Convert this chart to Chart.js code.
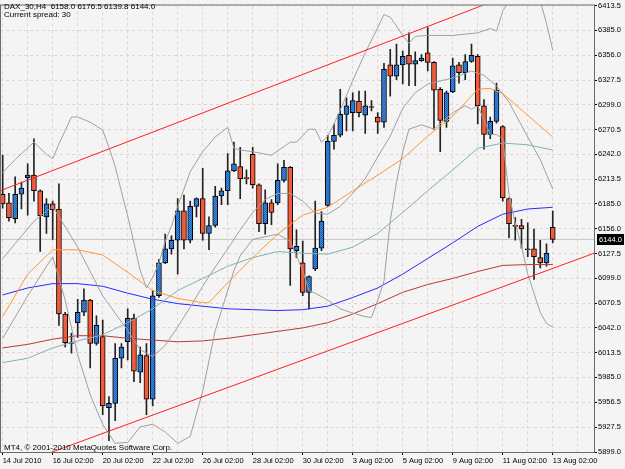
<!DOCTYPE html>
<html>
<head>
<meta charset="utf-8">
<title>DAX_30,H4</title>
<script src="https://cdn.jsdelivr.net/npm/chart.js@4.4.1/dist/chart.umd.min.js"></script>
<style>
  html, body { margin: 0; padding: 0; background: #f4f4f4; }
  #wrap { width: 625px; height: 469px; }
</style>
</head>
<body>
<div id="wrap"><canvas id="chart" width="625" height="469"></canvas></div>
<script>
// time axis: a label every 8th H4 bar
const timeLabels = {
  0: '14 Jul 2010', 8: '16 Jul 02:00', 16: '20 Jul 02:00', 24: '22 Jul 02:00',
  32: '26 Jul 02:00', 40: '28 Jul 02:00', 48: '30 Jul 02:00', 56: '3 Aug 02:00',
  64: '5 Aug 02:00', 72: '9 Aug 02:00', 80: '11 Aug 02:00', 88: '13 Aug 02:00'
};
const gridBars = [0, 4, 8, 12, 16, 20, 24, 28, 32, 36, 40, 44, 48, 52, 56, 60, 64, 68, 72, 76, 80, 84, 88, 92];

const priceTicks = [6413.5, 6385.0, 6356.0, 6327.5, 6299.0, 6270.5, 6242.0, 6213.5, 6185.0, 6156.0,
  6127.5, 6099.0, 6070.5, 6042.0, 6013.5, 5985.0, 5956.5, 5927.5, 5899.0];

// OHLC, one value per H4 bar
const opens = [6196, 6186, 6168, 6196, 6215, 6218, 6200, 6170, 6185, 6179,
  6058, 6025, 6048, 6060, 6074, 6024, 6032, 5950, 5955, 6007,
  6026, 6053, 5991, 6010, 5960, 6079, 6117, 6133, 6143, 6177,
  6143, 6182, 6191, 6151, 6160, 6194, 6200, 6223, 6228, 6215,
  6242, 6207, 6162, 6186, 6186, 6212, 6227, 6131, 6117, 6083,
  6110, 6134, 6183, 6257, 6264, 6288, 6290, 6303, 6287, 6297,
  6285, 6279, 6345, 6332, 6345, 6356, 6346, 6350, 6359, 6348,
  6317, 6280, 6314, 6345, 6336, 6349, 6355, 6298, 6265, 6280,
  6274, 6191, 6160, 6160, 6133, 6133, 6123, 6117, 6158];
const highs = [6241, 6197, 6216, 6210, 6231, 6260, 6201, 6191, 6188, 6208,
  6060, 6036, 6075, 6087, 6075, 6056, 6051, 5963, 6024, 6024,
  6064, 6058, 6020, 6024, 6085, 6121, 6150, 6148, 6191, 6195,
  6188, 6192, 6226, 6170, 6205, 6203, 6243, 6256, 6250, 6224,
  6250, 6208, 6201, 6190, 6231, 6235, 6228, 6155, 6142, 6102,
  6188, 6176, 6264, 6277, 6317, 6307, 6313, 6315, 6315, 6304,
  6290, 6347, 6363, 6369, 6361, 6382, 6360, 6357, 6388, 6349,
  6319, 6315, 6353, 6348, 6357, 6369, 6357, 6305, 6285, 6324,
  6275, 6192, 6169, 6167, 6163, 6156, 6143, 6139, 6176.5];
const lows = [6180, 6165, 6163, 6179, 6172, 6188, 6130, 6151, 6144, 6045,
  6020, 6013, 6031, 6056, 5996, 6022, 5942, 5912, 5935, 5996,
  6005, 5980, 5979, 5942, 5952, 6077, 6116, 6127, 6104, 6133,
  6140, 6170, 6143, 6132, 6158, 6184, 6184, 6222, 6191, 6208,
  6203, 6153, 6150, 6161, 6184, 6210, 6091, 6123, 6079, 6064,
  6108, 6131, 6182, 6248, 6262, 6269, 6269, 6285, 6266, 6292,
  6266, 6273, 6309, 6328, 6323, 6321, 6321, 6349, 6338, 6271,
  6245, 6273, 6313, 6324, 6328, 6348, 6277, 6248, 6260, 6278,
  6188, 6146, 6143, 6134, 6124, 6098, 6111, 6113, 6139.8];
const closes = [6185, 6169, 6196, 6203, 6218, 6200, 6171, 6185, 6178, 6058,
  6025, 6024, 6060, 6074, 6024, 6045, 5952, 5955, 6007, 6020,
  6053, 5992, 6011, 5960, 6079, 6117, 6133, 6143, 6177, 6143,
  6182, 6191, 6151, 6160, 6194, 6200, 6223, 6231, 6214, 6214,
  6207, 6162, 6186, 6175, 6212, 6227, 6133, 6136, 6083, 6101,
  6134, 6165, 6257, 6264, 6288, 6298, 6304, 6290, 6298, 6296,
  6279, 6340, 6332, 6345, 6355, 6346, 6350, 6353, 6348, 6316,
  6281, 6313, 6344, 6336, 6349, 6356, 6298, 6265, 6280, 6316,
  6192, 6162, 6159, 6156, 6132, 6124, 6117, 6128, 6144];

// indicator lines, [bar, price]
const maOrange = [[0, 6055], [4, 6104], [8, 6132], [12, 6132], [16, 6126], [20, 6106], [24, 6085], [28, 6076],
  [32, 6071], [33, 6071], [36, 6094], [40, 6123], [44, 6150], [48, 6172], [52, 6181], [56, 6200], [60, 6218],
  [64, 6237], [68, 6263], [72, 6286], [76, 6317], [78, 6318], [80, 6312], [84, 6287], [88, 6262]];
const maTeal = [[0, 6002], [4, 6007], [8, 6019], [12, 6027], [16, 6034], [20, 6048], [24, 6064], [28, 6085],
  [32, 6099], [36, 6113], [40, 6123], [44, 6130], [48, 6128], [52, 6127], [56, 6135], [60, 6151], [64, 6175],
  [68, 6200], [72, 6224], [76, 6249], [80, 6255], [84, 6253], [88, 6247]];
const maBlue = [[0, 6080], [4, 6088], [8, 6093], [12, 6093], [16, 6090], [20, 6082], [24, 6075], [28, 6070],
  [32, 6067], [36, 6064], [40, 6063], [44, 6062], [48, 6063], [52, 6067], [56, 6077], [60, 6088], [64, 6104],
  [68, 6122], [72, 6140], [76, 6159], [80, 6173], [84, 6179], [88, 6181]];
const maRed = [[0, 6019], [4, 6023], [8, 6029], [12, 6033], [16, 6033], [20, 6030], [24, 6028], [28, 6026],
  [32, 6027], [36, 6030], [40, 6034], [44, 6038], [48, 6042], [52, 6048], [56, 6058], [60, 6070], [64, 6083],
  [68, 6092], [72, 6099], [76, 6107], [80, 6114], [84, 6115], [88, 6115]];

const bbUpper = [[0, 6221], [2, 6236], [5, 6256], [7, 6242], [8, 6237], [9, 6254], [11, 6285], [12, 6285],
  [14, 6279], [16, 6270], [17, 6250], [18, 6228], [19, 6199], [20, 6171], [21, 6140], [22, 6108], [23, 6088],
  [24, 6100], [25, 6117], [26, 6142], [27, 6159], [28, 6182], [30, 6222], [32, 6245], [34, 6262], [36, 6273],
  [37, 6249], [38, 6247], [40, 6245], [43, 6241], [44, 6246], [46, 6256], [47, 6256], [49, 6271], [50, 6271],
  [51, 6256], [52, 6263], [53, 6277], [54, 6293], [56, 6327], [58, 6359], [60, 6388], [61, 6403], [62, 6400],
  [63, 6390], [64, 6379], [65, 6370], [66, 6378], [68, 6379], [72, 6379], [76, 6382], [78, 6387], [79, 6384],
  [80, 6407], [81, 6419], [84, 6425], [86, 6419], [87, 6393], [88, 6362]];
const bbMiddle = [[0, 6122], [5, 6165], [8, 6182], [12, 6135], [16, 6079], [20, 6039], [22, 6017], [24, 6009],
  [26, 6022], [28, 6043], [30, 6066], [32, 6090], [34, 6112], [36, 6133], [38, 6155], [40, 6175], [42, 6190],
  [44, 6197], [46, 6197], [48, 6188], [50, 6174], [52, 6173], [54, 6182], [56, 6197], [58, 6214], [60, 6239],
  [62, 6263], [64, 6295], [66, 6313], [68, 6323], [72, 6330], [75, 6338], [77, 6333], [79, 6321], [81, 6302],
  [84, 6262], [86, 6236], [88, 6202]];
const bbLower = [[0, 6030], [4, 6079], [8, 6124], [10, 6074], [12, 6011], [14, 5965], [16, 5931], [18, 5909],
  [20, 5910], [22, 5928], [24, 5931], [26, 5922], [28, 5909], [30, 5917], [32, 5969], [34, 6039], [36, 6085],
  [37, 6108], [38, 6125], [40, 6144], [44, 6150], [46, 6142], [47, 6125], [48, 6108], [49, 6085], [50, 6082],
  [52, 6074], [54, 6064], [56, 6059], [58, 6055], [59, 6054], [60, 6074], [61, 6096], [62, 6165], [63, 6210],
  [64, 6245], [65, 6271], [67, 6276], [69, 6271], [72, 6290], [74, 6298], [75, 6294], [76, 6298], [78, 6265],
  [79, 6265], [80, 6260], [81, 6196], [82, 6163], [83, 6136], [84, 6104], [86, 6060], [87, 6047], [88, 6043]];

// channel trend lines (two anchors each)
const channelUpper = [[-0.43, 6200], [94.6, 6463]];
const channelLower = [[-0.43, 5877], [94.6, 6128]];
const bidPrice = 6144.0;

const headerText = 'DAX_30,H4  6158.0 6176.5 6139.8 6144.0';
const spreadText = 'Current spread: 30';
const copyrightText = 'MT4, \u00a9 2001-2010 MetaQuotes Software Corp.';

const FONT = '"Liberation Sans", Arial, sans-serif';
const gridColor = '#e6d2d2';

// dotted blue fill like the MT4 bull candles
function bullPattern() {
  const c = document.createElement('canvas');
  c.width = 2; c.height = 2;
  const g = c.getContext('2d');
  g.fillStyle = '#3b8fe6';
  g.fillRect(0, 0, 2, 2);
  g.fillStyle = '#1d5fb8';
  g.fillRect(0, 0, 1, 1);
  g.fillRect(1, 1, 1, 1);
  return g.createPattern(c, 'repeat');
}
const bullFill = bullPattern();
const bearFill = '#f25a3c';

const toXY = pts => pts.map(p => ({ x: p[0], y: p[1] }));
const lineSet = (pts, color, order) => ({
  type: 'line', data: toXY(pts), borderColor: color, borderWidth: 1,
  pointRadius: 0, tension: 0, order: order
});

const mt4Decor = {
  id: 'mt4Decor',
  beforeDraw(chart) {
    const ctx = chart.ctx;
    ctx.save();
    ctx.fillStyle = '#f4f4f4';
    ctx.fillRect(0, 0, chart.width, chart.height);
    ctx.restore();
  },
  afterDraw(chart) {
    const ctx = chart.ctx;
    const a = chart.chartArea;
    ctx.save();
    ctx.strokeStyle = '#6a6a6a';
    ctx.lineWidth = 1;
    ctx.strokeRect(a.left + 0.5, a.top - 0.5, a.right - a.left, a.bottom - a.top + 1);

    ctx.font = '8px ' + FONT;
    ctx.fillStyle = '#000';
    ctx.textBaseline = 'alphabetic';
    ctx.fillText(headerText, 4, 8.5);
    ctx.fillText(spreadText, 4, 16.5);
    ctx.fillText(copyrightText, 4, 450);

    const y = chart.scales.y.getPixelForValue(bidPrice);
    ctx.font = '7.5px ' + FONT;
    ctx.fillStyle = '#000';
    ctx.fillRect(597, Math.round(y) - 5, 27, 11);
    ctx.fillStyle = '#fff';
    ctx.textBaseline = 'middle';
    ctx.fillText(bidPrice.toFixed(1), 599, Math.round(y) + 0.5);
    ctx.restore();
  }
};

new Chart(document.getElementById('chart'), {
  type: 'bar',
  data: {
    datasets: [
      lineSet(channelUpper, '#ff2020', 1),
      lineSet(channelLower, '#ff2020', 1),
      lineSet(bbUpper, '#a0a0a0', 2),
      lineSet(bbMiddle, '#a0a0a0', 2),
      lineSet(bbLower, '#a0a0a0', 2),
      lineSet(maOrange, '#ff9933', 2),
      lineSet(maTeal, '#7fb2ba', 2),
      lineSet(maBlue, '#2a2aff', 2),
      lineSet(maRed, '#b83a3a', 2),
      lineSet([[-0.43, bidPrice], [94.6, bidPrice]], '#c4c4c4', 20),
      {
        label: 'body',
        data: opens.map((o, i) => ({ x: i, y: [o, closes[i]] })),
        backgroundColor: ctx => closes[ctx.dataIndex] >= opens[ctx.dataIndex] ? bullFill : bearFill,
        borderColor: '#000',
        borderWidth: 1,
        borderSkipped: false,
        barThickness: 5,
        minBarLength: 1,
        grouped: false,
        order: 10
      },
      {
        label: 'wick',
        data: opens.map((o, i) => ({ x: i, y: [lows[i], highs[i]] })),
        backgroundColor: '#222',
        borderWidth: 0,
        barThickness: 1,
        grouped: false,
        order: 11
      }
    ]
  },
  options: {
    responsive: false,
    animation: false,
    layout: { padding: { left: 0, top: 2, right: 0, bottom: 0 } },
    plugins: { legend: { display: false }, tooltip: { enabled: false } },
    scales: {
      x: {
        type: 'linear',
        min: -0.43,
        max: 94.6,
        offset: false,
        afterBuildTicks: s => { s.ticks = gridBars.map(v => ({ value: v })); },
        afterFit: s => { s.height = 17; },
        ticks: {
          autoSkip: false, maxRotation: 0, align: 'start', padding: 1,
          color: '#000', font: { family: FONT, size: 7.5 },
          callback: v => timeLabels[v] || ''
        },
        grid: {
          offset: false,
          color: gridColor,
          tickLength: 3,
          tickColor: ctx => (ctx.tick && timeLabels[ctx.tick.value]) ? '#000' : 'rgba(0,0,0,0)'
        },
        border: { color: '#6a6a6a', dash: [3, 3] }
      },
      y: {
        type: 'linear',
        position: 'right',
        min: 5899,
        max: 6413.5,
        afterBuildTicks: s => { s.ticks = priceTicks.map(v => ({ value: v })); },
        afterFit: s => { s.width = 31; },
        ticks: {
          padding: 1, color: '#000', font: { family: FONT, size: 7.5 },
          callback: v => v.toFixed(1)
        },
        grid: { color: gridColor, tickLength: 3, tickColor: '#000' },
        border: { color: '#6a6a6a', dash: [3, 3] }
      }
    }
  },
  plugins: [mt4Decor]
});
</script>
</body>
</html>
